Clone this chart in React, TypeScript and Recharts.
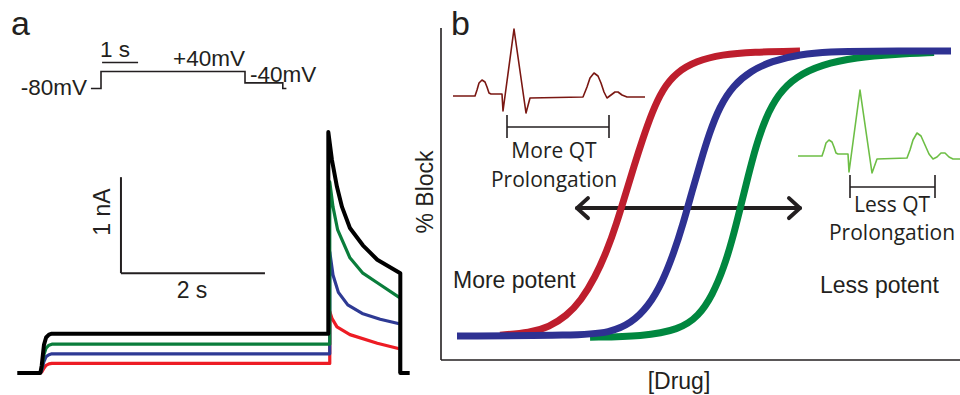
import React from 'react';
import { LineChart, Line, XAxis, YAxis, ReferenceLine } from 'recharts';

const INK = '#231F20';
const SANS = "'Liberation Sans', Arial, Helvetica, sans-serif";
const ECG_FONT = "'Open Sans', 'Noto Sans', sans-serif";

// ---------- Panel a: voltage protocol (time s, voltage mV) ----------
const protocol = [
  { x: -0.28, y: -80 }, { x: 0, y: -80 }, { x: 0, y: 40 }, { x: 4, y: 40 },
  { x: 4, y: -40 }, { x: 5.05, y: -40 }, { x: 5.05, y: -80 }, { x: 5.15, y: -80 },
];
const protocolScaleBar = { t0: 0.03, t1: 1.03, v: 102 }; // 1 s

// ---------- Panel a: hERG currents (time s, current nA) ----------
const blackTrace = [
  { x: -0.01, y: 0 }, { x: 0.31, y: 0 }, { x: 0.33, y: 0.08 }, { x: 0.36, y: 0.29 },
  { x: 0.39, y: 0.37 }, { x: 0.43, y: 0.4 }, { x: 0.47, y: 0.41 }, { x: 4.31, y: 0.41 },
  { x: 4.31, y: 2.51 }, { x: 4.36, y: 2.22 }, { x: 4.43, y: 1.94 }, { x: 4.5, y: 1.73 },
  { x: 4.61, y: 1.51 }, { x: 4.79, y: 1.33 }, { x: 4.99, y: 1.18 }, { x: 5.31, y: 1.04 },
  { x: 5.31, y: 0 }, { x: 5.44, y: 0 },
];
const greenTrace = [
  { x: 0.31, y: 0 }, { x: 0.33, y: 0.05 }, { x: 0.36, y: 0.19 }, { x: 0.39, y: 0.26 },
  { x: 0.43, y: 0.29 }, { x: 0.47, y: 0.3 }, { x: 4.33, y: 0.3 }, { x: 4.33, y: 1.99 },
  { x: 4.375, y: 1.73 }, { x: 4.44, y: 1.49 }, { x: 4.61, y: 1.2 }, { x: 4.79, y: 1.04 },
  { x: 4.99, y: 0.94 }, { x: 5.31, y: 0.78 }, { x: 5.31, y: 0 },
];
const blueTrace = [
  { x: 0.31, y: 0 }, { x: 0.33, y: 0.03 }, { x: 0.36, y: 0.12 }, { x: 0.39, y: 0.17 },
  { x: 0.43, y: 0.19 }, { x: 0.47, y: 0.2 }, { x: 4.33, y: 0.2 }, { x: 4.33, y: 1.26 },
  { x: 4.375, y: 1.02 }, { x: 4.45, y: 0.84 }, { x: 4.58, y: 0.71 }, { x: 4.78, y: 0.62 },
  { x: 5.03, y: 0.56 }, { x: 5.31, y: 0.51 }, { x: 5.31, y: 0 },
];
const redTrace = [
  { x: 0.31, y: 0 }, { x: 0.33, y: 0.01 }, { x: 0.36, y: 0.05 }, { x: 0.39, y: 0.08 },
  { x: 0.43, y: 0.095 }, { x: 0.47, y: 0.1 }, { x: 4.33, y: 0.1 }, { x: 4.33, y: 0.64 },
  { x: 4.36, y: 0.57 }, { x: 4.43, y: 0.48 }, { x: 4.61, y: 0.4 }, { x: 4.99, y: 0.31 },
  { x: 5.31, y: 0.25 }, { x: 5.31, y: 0 },
];
const currentScaleBar = { t0: 1.43, t1: 3.43, i0: 1.04, i1: 2.04 }; // 2 s, 1 nA

// ---------- Panel b: concentration-response (log units, % block) ----------
const redCurve = [
  { x: 0.682, y: 0.3 }, { x: 1.029, y: 1.2 }, { x: 1.25, y: 3.2 }, { x: 1.45, y: 7.0 },
  { x: 1.62, y: 12.5 }, { x: 1.78, y: 20.5 }, { x: 1.92, y: 30.0 }, { x: 2.03, y: 39.5 },
  { x: 2.13, y: 49.5 }, { x: 2.23, y: 59.5 }, { x: 2.33, y: 69.0 }, { x: 2.44, y: 78.5 },
  { x: 2.56, y: 86.5 }, { x: 2.72, y: 92.5 }, { x: 2.95, y: 96.5 }, { x: 3.25, y: 98.8 },
  { x: 3.6, y: 99.7 }, { x: 4.15, y: 100 },
];
const blueCurve = [
  { x: 0.185, y: 0 }, { x: 1.572, y: 0.2 }, { x: 1.954, y: 1.2 }, { x: 2.2, y: 4.5 },
  { x: 2.4, y: 10.5 }, { x: 2.56, y: 19.0 }, { x: 2.69, y: 29.0 }, { x: 2.8, y: 39.5 },
  { x: 2.9, y: 50.5 }, { x: 3.0, y: 61.0 }, { x: 3.1, y: 71.0 }, { x: 3.22, y: 80.5 },
  { x: 3.38, y: 88.0 }, { x: 3.58, y: 93.0 }, { x: 3.82, y: 96.5 }, { x: 4.15, y: 98.9 },
  { x: 4.5, y: 99.8 }, { x: 4.9, y: 100 }, { x: 5.896, y: 100 },
];
const greenCurve = [
  { x: 1.723, y: -0.4 }, { x: 2.335, y: -0.1 }, { x: 2.75, y: 2.2 }, { x: 2.98, y: 7.0 },
  { x: 3.14, y: 14.5 }, { x: 3.27, y: 24.0 }, { x: 3.37, y: 34.0 }, { x: 3.46, y: 45.0 },
  { x: 3.55, y: 56.0 }, { x: 3.64, y: 66.5 }, { x: 3.75, y: 76.5 }, { x: 3.9, y: 85.0 },
  { x: 4.1, y: 91.0 }, { x: 4.4, y: 95.3 }, { x: 4.8, y: 97.8 }, { x: 5.25, y: 98.9 },
  { x: 5.7, y: 99.5 },
];
const arrowShaft = [{ x: 1.572, y: 44.9 }, { x: 4.15, y: 44.9 }];
const arrowLeftHead = [{ x: 1.699, y: 48.4 }, { x: 1.572, y: 44.9 }, { x: 1.699, y: 41.4 }];
const arrowRightHead = [{ x: 4.023, y: 48.4 }, { x: 4.15, y: 44.9 }, { x: 4.023, y: 41.4 }];

// ---------- ECG traces (time ms, mV) ----------
const ecgLong = [
  { x: 12, y: 0 }, { x: 100, y: 0 }, { x: 108, y: 0.12 }, { x: 116, y: 0.26 }, { x: 128, y: 0.32 },
  { x: 140, y: 0.28 }, { x: 148, y: 0.18 }, { x: 156, y: 0.06 }, { x: 164, y: 0.04 }, { x: 208, y: 0.04 },
  { x: 212, y: -0.3 }, { x: 256, y: 1.34 }, { x: 304, y: -0.34 }, { x: 320, y: -0.04 }, { x: 532, y: -0.02 },
  { x: 548, y: 0.18 }, { x: 560, y: 0.36 }, { x: 576, y: 0.46 }, { x: 592, y: 0.4 }, { x: 604, y: 0.26 },
  { x: 616, y: 0.08 }, { x: 628, y: -0.04 }, { x: 644, y: 0.02 }, { x: 660, y: 0.08 }, { x: 672, y: 0.08 },
  { x: 688, y: 0.02 }, { x: 708, y: -0.02 }, { x: 780, y: -0.02 },
];
const ecgLongQT = { t0: 228, t1: 636, v: -0.62, top: -0.38, bottom: -0.84 };
const ecgShort = [
  { x: 12, y: 0 }, { x: 108, y: 0 }, { x: 116, y: 0.12 }, { x: 124, y: 0.26 }, { x: 136, y: 0.32 },
  { x: 148, y: 0.28 }, { x: 156, y: 0.18 }, { x: 164, y: 0.06 }, { x: 172, y: 0.04 }, { x: 212, y: 0.04 },
  { x: 216, y: -0.32 }, { x: 260, y: 1.32 }, { x: 308, y: -0.34 }, { x: 328, y: -0.06 }, { x: 448, y: -0.04 },
  { x: 460, y: 0.12 }, { x: 472, y: 0.32 }, { x: 488, y: 0.46 }, { x: 504, y: 0.4 }, { x: 520, y: 0.22 },
  { x: 536, y: 0.04 }, { x: 552, y: -0.06 }, { x: 568, y: -0.02 }, { x: 584, y: 0.06 }, { x: 600, y: 0.06 },
  { x: 616, y: -0.02 }, { x: 632, y: -0.06 }, { x: 660, y: -0.06 },
];
const ecgShortQT = { t0: 220, t1: 560, v: -0.62, top: -0.38, bottom: -0.84 };

const M = { top: 10, right: 10, bottom: 10, left: 10 };

function bracketLines(b: { t0: number; t1: number; v: number; top: number; bottom: number }, key: string) {
  const p = { stroke: INK, strokeWidth: 1.6, ifOverflow: 'visible' as const };
  return [
    <ReferenceLine key={key + 'h'} segment={[{ x: b.t0, y: b.v }, { x: b.t1, y: b.v }]} {...p} />,
    <ReferenceLine key={key + 'l'} segment={[{ x: b.t0, y: b.top }, { x: b.t0, y: b.bottom }]} {...p} />,
    <ReferenceLine key={key + 'r'} segment={[{ x: b.t1, y: b.top }, { x: b.t1, y: b.bottom }]} {...p} />,
  ];
}

const lineProps = { dot: false, activeDot: false, isAnimationActive: false } as const;

function Positioned({ left, top, children }: { left: number; top: number; children: React.ReactNode }) {
  return <div style={{ position: 'absolute', left, top }}>{children}</div>;
}

export default function App() {
  return (
    <div style={{ position: 'absolute', left: 0, top: 0, width: 960, height: 395, overflow: 'hidden', background: '#fff' }}>
      {/* protocol */}
      <Positioned left={73} top={50}>
        <LineChart width={236} height={60} margin={M}>
          <XAxis type="number" dataKey="x" domain={[-0.5, 5.5]} hide />
          <YAxis type="number" dataKey="y" domain={[-160, 120]} hide />
          <Line data={protocol} dataKey="y" type="linear" stroke={INK} strokeWidth={1.6} {...lineProps} />
          <ReferenceLine segment={[{ x: protocolScaleBar.t0, y: protocolScaleBar.v }, { x: protocolScaleBar.t1, y: protocolScaleBar.v }]} stroke={INK} strokeWidth={1.6} />
        </LineChart>
      </Positioned>

      {/* currents */}
      <Positioned left={-10} top={99}>
        <LineChart width={452} height={308} margin={M}>
          <XAxis type="number" dataKey="x" domain={[-0.25, 5.75]} hide />
          <YAxis type="number" dataKey="y" domain={[-0.25, 2.75]} hide />
          <ReferenceLine segment={[{ x: currentScaleBar.t0, y: currentScaleBar.i1 }, { x: currentScaleBar.t0, y: currentScaleBar.i0 }]} stroke={INK} strokeWidth={2} />
          <ReferenceLine segment={[{ x: currentScaleBar.t0, y: currentScaleBar.i0 }, { x: currentScaleBar.t1, y: currentScaleBar.i0 }]} stroke={INK} strokeWidth={2} />
          <Line data={redTrace} dataKey="y" type="linear" stroke="#ED1C24" strokeWidth={3.2} strokeLinejoin="round" {...lineProps} />
          <Line data={blueTrace} dataKey="y" type="linear" stroke="#2E3A94" strokeWidth={3.2} strokeLinejoin="round" {...lineProps} />
          <Line data={greenTrace} dataKey="y" type="linear" stroke="#0A7D3B" strokeWidth={3.2} strokeLinejoin="round" {...lineProps} />
          <Line data={blackTrace} dataKey="y" type="linear" stroke="#000000" strokeWidth={4} strokeLinejoin="round" {...lineProps} />
        </LineChart>
      </Positioned>

      {/* panel b concentration-response */}
      <Positioned left={431} top={18}>
        <LineChart width={539} height={352} margin={M}>
          <XAxis type="number" dataKey="x" domain={[0, 6]} hide />
          <YAxis type="number" dataKey="y" domain={[-8.4, 108.1]} hide />
          <ReferenceLine x={0} stroke={INK} strokeWidth={1.6} />
          <ReferenceLine y={-8.4} stroke={INK} strokeWidth={1.6} />
          <Line data={arrowShaft} dataKey="y" type="linear" stroke={INK} strokeWidth={4} strokeLinecap="round" {...lineProps} />
          <Line data={arrowLeftHead} dataKey="y" type="linear" stroke={INK} strokeWidth={4} strokeLinecap="round" strokeLinejoin="round" {...lineProps} />
          <Line data={arrowRightHead} dataKey="y" type="linear" stroke={INK} strokeWidth={4} strokeLinecap="round" strokeLinejoin="round" {...lineProps} />
          <Line data={redCurve} dataKey="y" type="basis" stroke="#BE1E2D" strokeWidth={7} {...lineProps} />
          <Line data={greenCurve} dataKey="y" type="basis" stroke="#00873F" strokeWidth={7} {...lineProps} />
          <Line data={blueCurve} dataKey="y" type="basis" stroke="#2E3192" strokeWidth={7} {...lineProps} />
        </LineChart>
      </Positioned>

      {/* ECG long QT */}
      <Positioned left={440} top={10}>
        <LineChart width={220} height={150} margin={M}>
          <XAxis type="number" dataKey="x" domain={[0, 800]} hide />
          <YAxis type="number" dataKey="y" domain={[-1.08, 1.52]} hide />
          <Line data={ecgLong} dataKey="y" type="linear" stroke="#7A1712" strokeWidth={1.6} strokeLinejoin="round" {...lineProps} />
          {bracketLines(ecgLongQT, 'l')}
        </LineChart>
      </Positioned>

      {/* ECG short QT */}
      <Positioned left={785} top={70}>
        <LineChart width={185} height={150} margin={M}>
          <XAxis type="number" dataKey="x" domain={[0, 660]} hide />
          <YAxis type="number" dataKey="y" domain={[-1.08, 1.52]} hide />
          <Line data={ecgShort} dataKey="y" type="linear" stroke="#6DBE45" strokeWidth={1.6} strokeLinejoin="round" {...lineProps} />
          {bracketLines(ecgShortQT, 's')}
        </LineChart>
      </Positioned>

      {/* text */}
      <svg width={960} height={395} style={{ position: 'absolute', left: 0, top: 0, pointerEvents: 'none' }}>
        <g fill={INK} fontFamily={SANS}>
          <text x={11} y={35} fontSize={34}>a</text>
          <text x={451} y={35} fontSize={34}>b</text>
          <text x={87} y={95} fontSize={22.5} textAnchor="end">-80mV</text>
          <text x={100} y={57} fontSize={22.5}>1 s</text>
          <text x={173} y={66} fontSize={22.5}>+40mV</text>
          <text x={250} y={82} fontSize={22.5}>-40mV</text>
          <text x={110} y={212} fontSize={23} textAnchor="middle" transform="rotate(-90 110 212)">1 nA</text>
          <text x={192} y={298} fontSize={23} textAnchor="middle">2 s</text>
          <text x={433} y={192} fontSize={23} textAnchor="middle" transform="rotate(-90 433 192)">% Block</text>
          <text x={679} y={389} fontSize={23} textAnchor="middle">[Drug]</text>
          <text x={453} y={288} fontSize={23}>More potent</text>
          <text x={820} y={293} fontSize={23}>Less potent</text>
        </g>
        <g fill={INK} fontFamily={ECG_FONT} textAnchor="middle" fontSize={21}>
          <text x={554} y={158}>More QT</text>
          <text x={554} y={187}>Prolongation</text>
          <text x={892} y={212}>Less QT</text>
          <text x={892} y={240}>Prolongation</text>
        </g>
      </svg>
    </div>
  );
}
